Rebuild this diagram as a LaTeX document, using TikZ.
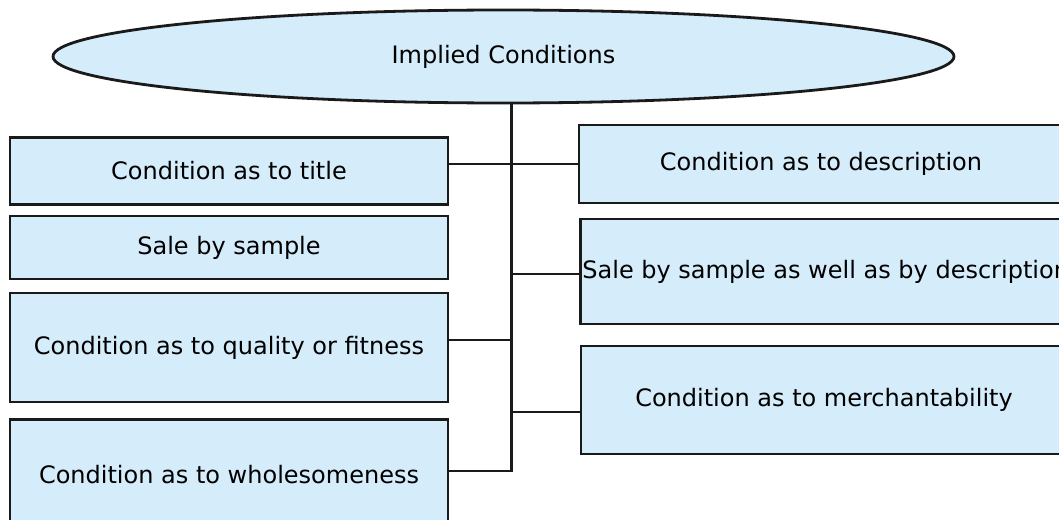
\documentclass[tikz,border=0pt]{standalone}
\usepackage{fontspec}
\setmainfont{DejaVu Sans}
\usepackage{tikz}
\usetikzlibrary{shapes.geometric}
\definecolor{boxblue}{RGB}{213,236,250}
\definecolor{edge}{RGB}{26,26,26}

\begin{document}
\begin{tikzpicture}[x=0.5pt, y=-0.5pt,
    box/.style={draw=edge, fill=boxblue, line width=1.4pt, inner sep=1pt,
      font=\fontsize{12}{14}\selectfont},
    oval/.style={ellipse, draw=edge, fill=boxblue, line width=1.4pt, inner sep=0pt,
      font=\fontsize{12}{14}\selectfont},
    link/.style={draw=edge, line width=1.4pt}]
    \def\u{0.5pt}
    \useasboundingbox (0,0) rectangle (1059,519);
    \clip (0,0) rectangle (1059,519);
    \node[oval, minimum width=901*\u, minimum height=93*\u] (root) at (503.5,56.5)
      {Implied Conditions};
    % left column
    \node[box, minimum width=438*\u, minimum height=66.5*\u] (title) at (229,171)
      {Condition as to title};
    \node[box, minimum width=438*\u, minimum height=63*\u] (sample) at (229,247.5)
      {Sale by sample};
    \node[box, minimum width=438*\u, minimum height=109*\u] (quality) at (229,347.5)
      {Condition as to quality or fitness};
    \node[box, minimum width=438*\u, minimum height=111*\u] (whole) at (229,475)
      {Condition as to wholesomeness};
    % right column
    \node[box, minimum width=484*\u, minimum height=78*\u] (desc) at (821,164)
      {Condition as to description};
    \node[box, anchor=west, minimum width=484*\u, minimum height=105*\u] (both)
      at (579,271.5) {Sale by sample as well as by description};
    \node[box, minimum width=486*\u, minimum height=108*\u] (merch) at (824,400)
      {Condition as to merchantability};
    % trunk and branches
    \coordinate (top) at (511.5,103);
    \coordinate (bot) at (511.5,471);
    \coordinate (j1) at (511.5,274);
    \coordinate (j2) at (511.5,340);
    \coordinate (j3) at (511.5,412);
    \draw[link] (top) -- (bot) -- (bot -| whole.east);
    \draw[link] (desc.west -| title.east) -- (desc.west);
    \draw[link] (j1) -- (j1 -| both.west);
    \draw[link] (j2) -- (j2 -| quality.east);
    \draw[link] (j3) -- (j3 -| merch.west);
\end{tikzpicture}
\end{document}
